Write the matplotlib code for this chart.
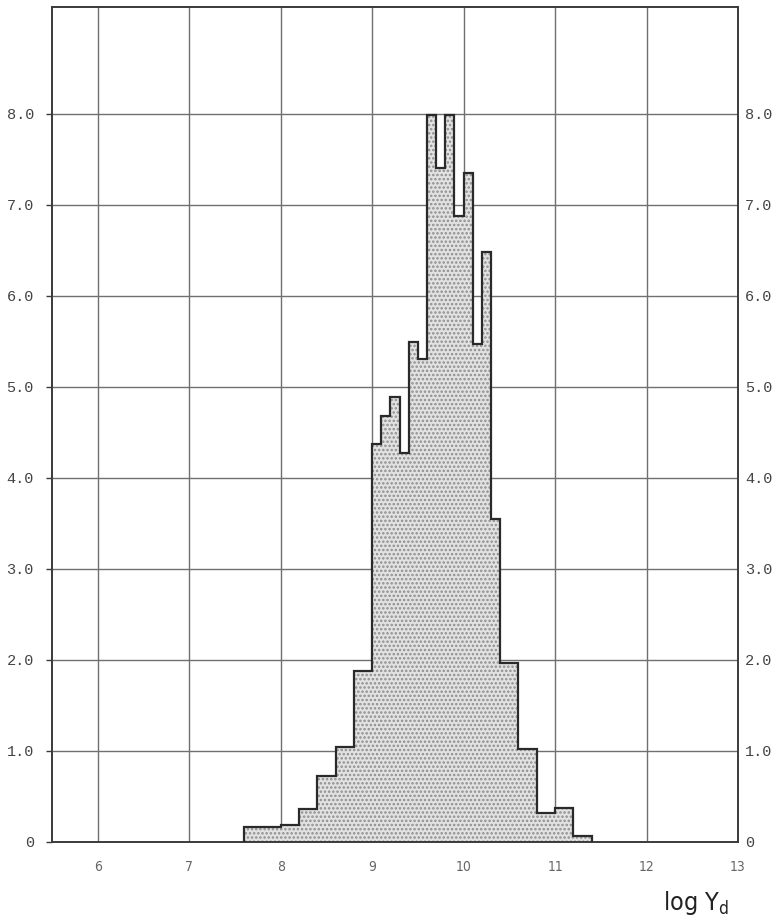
import numpy as np
import matplotlib
matplotlib.use('Agg')
import matplotlib.pyplot as plt

# bin edges (log Y_d) and bar heights
edges = [7.6, 7.8, 8.0, 8.2, 8.4, 8.6, 8.8, 9.0, 9.1, 9.2, 9.3, 9.4, 9.5,
         9.6, 9.7, 9.8, 9.9, 10.0, 10.1, 10.2, 10.3, 10.4, 10.6, 10.8,
         11.0, 11.2, 11.4]
heights = [0.16, 0.16, 0.19, 0.36, 0.73, 1.04, 1.88, 4.37, 4.68, 4.89,
           4.27, 5.49, 5.30, 7.98, 7.40, 7.98, 6.88, 7.35, 5.47, 6.48,
           3.55, 1.97, 1.02, 0.32, 0.37, 0.07]

x_ticks = [6, 7, 8, 9, 10, 11, 12, 13]
x_labels = ['6', '7', '8', '9', '10', '11', '12', '13']
y_ticks = [0, 1, 2, 3, 4, 5, 6, 7, 8]
y_labels = ['0', '1.0', '2.0', '3.0', '4.0', '5.0', '6.0', '7.0', '8.0']

plt.rcParams['hatch.linewidth'] = 1.2

fig = plt.figure(figsize=(7.78, 9.22), dpi=100)
ax = fig.add_axes([0.0668, 0.0868, 0.8818, 0.9056])

ax.set_xlim(5.5, 13)
ax.set_ylim(0, 9.17)

# griglia
for xv in x_ticks[:-1]:
    ax.axvline(xv, color='#707070', lw=1.0, zorder=1)
for yv in y_ticks[1:]:
    ax.axhline(yv, color='#707070', lw=1.0, zorder=1)

# istogramma puntinato
ax.stairs(heights, edges, fill=True, baseline=0, facecolor='#e2e2e2',
          edgecolor='#8e8e8e', hatch='....', linewidth=0, zorder=2)
ax.stairs(heights, edges, baseline=0, color='#2a2a2a', linewidth=1.6, zorder=3)

for s in ax.spines.values():
    s.set_color('#3a3a3a')
    s.set_linewidth(1.4)

ax.set_xticks(x_ticks)
ax.set_xticklabels(x_labels, fontsize=10, color='#666666',
                   family='DejaVu Sans', fontstretch='condensed')
ax.tick_params(axis='x', length=0, pad=13)

ax.set_yticks(y_ticks)
ax.set_yticklabels(y_labels, fontsize=11, color='#444444', family='Liberation Mono')
ax.tick_params(axis='y', length=4, width=1, color='#3a3a3a', direction='out', pad=9)

# etichette a destra
ax2 = ax.secondary_yaxis('right')
ax2.set_yticks(y_ticks)
ax2.set_yticklabels(y_labels, fontsize=11, color='#444444', family='Liberation Mono')
ax2.tick_params(length=0, pad=5)
ax2.spines['right'].set_visible(False)

fig.text(0.895, 0.013, r'log Y$_\mathregular{d}$', ha='center', va='baseline',
         fontsize=18, color='#222222', family='DejaVu Sans', fontstretch='condensed')

fig.savefig('out.png', dpi=100, facecolor='white')
